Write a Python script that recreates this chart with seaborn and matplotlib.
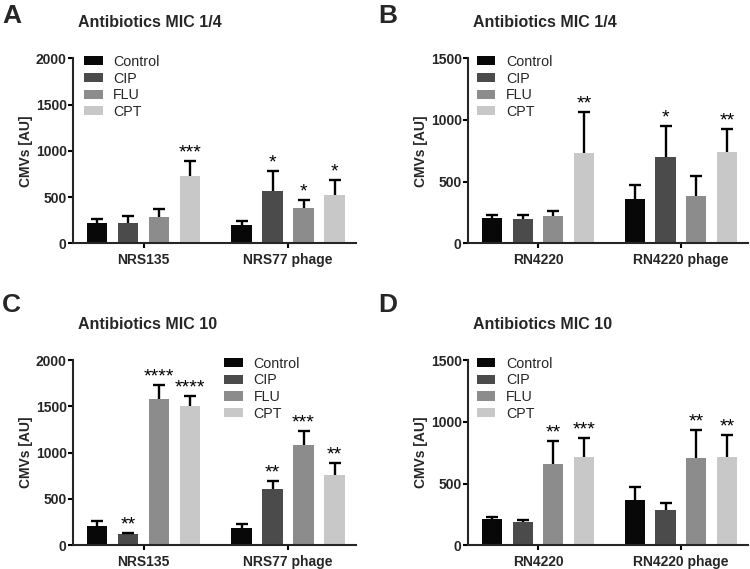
import numpy as np
import pandas as pd
import matplotlib
matplotlib.use('Agg')
import matplotlib.pyplot as plt
import seaborn as sns

# ==============================
# Data
# ==============================

treatments = ['Control', 'CIP', 'FLU', 'CPT']
palette = ['#080808', '#4b4b4b', '#8c8c8c', '#c8c8c8']

strains_nrs = ['NRS135', 'NRS77 phage']
strains_rn = ['RN4220', 'RN4220 phage']

# A: NRS, MIC 1/4  (rows = strain, cols = treatment)
a_mean = [[216, 216, 284, 730], [194, 565, 381, 525]]
a_top = [[266, 291, 374, 892], [245, 781, 468, 687]]
a_stars = [['', '', '', '***'], ['', '*', '*', '*']]

# B: RN4220, MIC 1/4
b_mean = [[202, 199, 221, 735], [361, 703, 382, 741]]
b_top = [[232, 232, 264, 1064], [471, 953, 544, 926]]
b_stars = [['', '', '', '**'], ['', '*', '', '**']]

# C: NRS, MIC 10
c_mean = [[212, 122, 1583, 1504], [183, 608, 1079, 755]]
c_top = [[266, 137, 1730, 1612], [230, 691, 1237, 888]]
c_stars = [['', '**', '****', '****'], ['', '**', '***', '**']]

# D: RN4220, MIC 10
d_mean = [[210, 189, 657, 719], [364, 285, 711, 716]]
d_top = [[232, 202, 846, 873], [471, 342, 934, 897]]
d_stars = [['', '', '**', '***'], ['', '', '**', '**']]

# ==============================
# Style
# ==============================

sns.set_style("ticks")
plt.rcParams['font.family'] = ['Liberation Sans', 'DejaVu Sans']
plt.rcParams['axes.linewidth'] = 1.5

fig = plt.figure(figsize=(7.5, 5.69), dpi=100)

panels = [
    ('A', 'Antibiotics MIC 1/4', strains_nrs, a_mean, a_top, a_stars, 2000,
     [0.0973, 0.5724, 0.3773, 0.3251], 0.039),
    ('B', 'Antibiotics MIC 1/4', strains_rn, b_mean, b_top, b_stars, 1500,
     [0.624, 0.5724, 0.3733, 0.3251], 0.031),
    ('C', 'Antibiotics MIC 10', strains_nrs, c_mean, c_top, c_stars, 2000,
     [0.0973, 0.0418, 0.3773, 0.3251], 0.534),
    ('D', 'Antibiotics MIC 10', strains_rn, d_mean, d_top, d_stars, 1500,
     [0.624, 0.0418, 0.3733, 0.3251], 0.031),
]


def draw_panel(letter, title, strains, mean, top, stars, ymax, pos, leg_x):
    ax = fig.add_axes(pos)
    rows = []
    for i, s in enumerate(strains):
        for j, t in enumerate(treatments):
            rows.append({'strain': s, 'treatment': t, 'value': mean[i][j],
                         'top': top[i][j], 'star': stars[i][j]})
    df = pd.DataFrame(rows)

    sns.barplot(data=df, x='strain', y='value', hue='treatment',
                hue_order=treatments, order=strains, palette=palette,
                width=0.858, gap=0.34, errorbar=None, linewidth=0,
                saturation=1, ax=ax)

    # upper-only error bars + significance stars
    bar_conts = list(ax.containers)
    for j, cont in enumerate(bar_conts):
        for i, bar in enumerate(cont):
            row = df[(df['strain'] == strains[i]) & (df['treatment'] == treatments[j])].iloc[0]
            xc = bar.get_x() + bar.get_width() / 2
            h = bar.get_height()
            eb = ax.errorbar(xc, h, yerr=[[0], [row['top'] - h]], color='black',
                             elinewidth=1.7, capsize=4, capthick=1.7, zorder=3)
            # hide the cap sitting on top of the bar (only the upper cap is drawn)
            for cap in eb[1]:
                if np.allclose(cap.get_ydata(), h):
                    cap.set_visible(False)
            if row['star']:
                ax.annotate(row['star'], (xc, row['top']), xytext=(0, 2.5),
                            textcoords='offset points', ha='center',
                            va='baseline', fontsize=14, color='black')

    ax.set_xlim(-0.49, 1.47)
    ax.set_ylim(0, ymax)
    ax.set_yticks(np.arange(0, ymax + 1, 500))
    sns.despine(ax=ax)
    ax.tick_params(axis='both', width=1.5, length=3.5, labelsize=10, color='black')
    ax.tick_params(axis='y', pad=1)
    ax.tick_params(axis='x', pad=3.5)
    for lab in ax.get_xticklabels() + ax.get_yticklabels():
        lab.set_fontweight('bold')
    ax.set_xlabel('')
    ax.set_ylabel('CMVs [AU]', fontsize=10, fontweight='bold', labelpad=2)

    handles, labels = ax.get_legend_handles_labels()
    ax.legend(handles, labels, loc='upper left', bbox_to_anchor=(leg_x, 1.018),
              frameon=False, fontsize=10.3, handlelength=1.3, handleheight=0.6,
              handletextpad=0.75, labelspacing=0.18, borderpad=0, borderaxespad=0)

    x0 = pos[0]
    ytop = pos[1] + pos[3]
    fig.text(x0 + 5 / 750, ytop + 31 / 569, title, fontsize=11.5,
             fontweight='bold', ha='left', va='baseline')
    fig.text(x0 - 71 / 750 if letter in 'AC' else x0 - 90 / 750,
             ytop + 35.5 / 569 if letter in 'AB' else ytop + 48 / 569,
             letter, fontsize=19, fontweight='bold', ha='left', va='baseline')
    return ax


for p in panels:
    draw_panel(*p)

plt.savefig('out.png', dpi=100)
plt.close()
